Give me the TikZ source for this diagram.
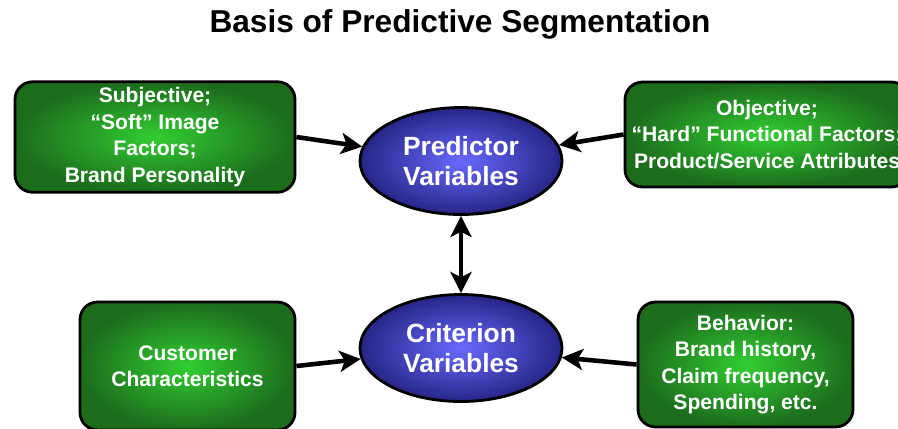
\documentclass[tikz,border=0pt]{standalone}
\usepackage{fontspec}
\setmainfont{Liberation Sans}
\usepackage{tikz}
\usetikzlibrary{arrows.meta, positioning, shapes.geometric}

\definecolor{boxin}{RGB}{50,205,50}
\definecolor{boxout}{RGB}{28,108,28}
\definecolor{varin}{RGB}{105,105,255}
\definecolor{varout}{RGB}{38,38,135}

\tikzset{
  factor/.style={draw=black, line width=1.6pt, rounded corners=10pt,
                 inner color=boxin, outer color=boxout, text=white,
                 font=\bfseries\fontsize{12}{15}\selectfont,
                 align=center},
  varnode/.style={ellipse, draw=black, line width=1.6pt,
                   inner color=varin, outer color=varout, text=white,
                   font=\bfseries\fontsize{15}{17.5}\selectfont,
                   align=center, minimum width=4.04cm, minimum height=2.14cm},
  linkarrow/.style={line width=2.6pt, -{Stealth[length=12pt, width=12pt, inset=3pt]}}
}

\begin{document}
\begin{tikzpicture}
\useasboundingbox (0,0) rectangle (17.96,-8.56);
\clip (0,0) rectangle (17.96,-8.56);

\node (title) at (9.2,-0.48) {\bfseries\fontsize{18}{20}\selectfont Basis of Predictive Segmentation};

\node [varnode] (pred) at (9.22,-3.22) {Predictor\\Variables};
\node [varnode] (crit) at (9.22,-6.96) {Criterion\\Variables};
%
\node [factor, minimum width=5.6cm, minimum height=2.2cm] (soft) at (3.1,-2.74)
  {Subjective;\\``Soft'' Image\\Factors;\\Brand Personality};
\node [factor, minimum width=5.68cm, minimum height=2.1cm] (hard) at (15.34,-2.69)
  {Objective;\\``Hard'' Functional Factors;\\Product/Service Attributes};
\node [factor, minimum width=4.3cm, minimum height=2.56cm] (cust) at (3.75,-7.32)
  {Customer\\Characteristics};
\node [factor, minimum width=4.3cm, minimum height=2.5cm] (behav) at (14.91,-7.29)
  {Behavior:\\Brand history,\\Claim frequency,\\Spending, etc.};

\draw [linkarrow] (soft.east) -- (pred);
\draw [linkarrow] (hard.west) -- (pred);
\draw [linkarrow] (cust.east) -- (crit);
\draw [linkarrow] (behav.west) -- (crit);
\draw [linkarrow, {Stealth[length=12pt, width=12pt, inset=3pt]}-{Stealth[length=12pt, width=12pt, inset=3pt]}] (pred) -- (crit);
%
\end{tikzpicture}
\end{document}
